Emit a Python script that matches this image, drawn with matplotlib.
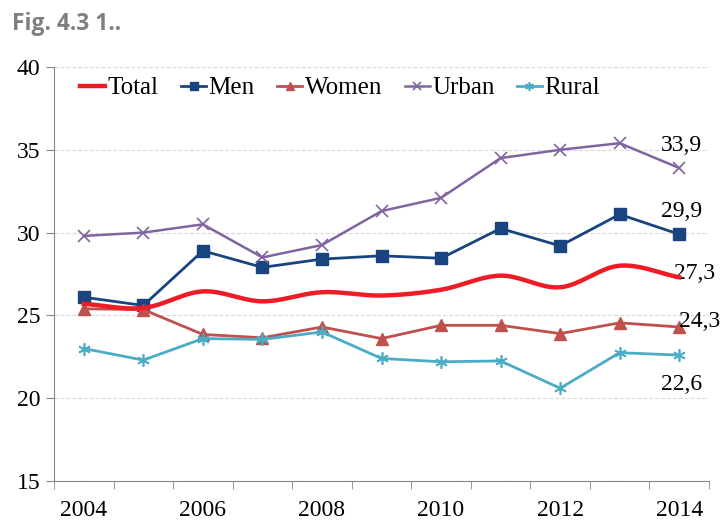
import numpy as np
import matplotlib

matplotlib.use("Agg")
import matplotlib.pyplot as plt  # noqa: E402

years = list(range(2004, 2015))
total = [25.7, 25.45, 26.45, 25.85, 26.4, 26.2, 26.55, 27.4, 26.7, 28.0, 27.3]
men = [26.1, 25.6, 28.9, 27.9, 28.4, 28.6, 28.45, 30.25, 29.2, 31.1, 29.9]
women = [25.4, 25.35, 23.85, 23.65, 24.3, 23.6, 24.4, 24.4, 23.9, 24.55, 24.3]
urban = [29.8, 30.0, 30.5, 28.5, 29.25, 31.3, 32.1, 34.5, 35.0, 35.4, 33.9]
rural = [23.0, 22.3, 23.6, 23.55, 24.0, 22.4, 22.2, 22.25, 20.6, 22.75, 22.6]
end_labels = ["27,3", "29,9", "24,3", "33,9", "22,6"]

RED = "#ee1c25"
NAVY = "#1a4480"
BRICK = "#c0504d"
PURPLE = "#8064a2"
CYAN = "#4bacc6"

plt.rcParams["font.family"] = ["Liberation Serif", "DejaVu Serif"]


def smooth(x, y, n=20):
    # Catmull-Rom curve through the points, like Excel's smoothed line
    x = np.asarray(x, float)
    y = np.asarray(y, float)
    px = np.concatenate([[2 * x[0] - x[1]], x, [2 * x[-1] - x[-2]]])
    py = np.concatenate([[2 * y[0] - y[1]], y, [2 * y[-1] - y[-2]]])
    xs, ys = [], []
    t = np.linspace(0, 1, n, endpoint=False)
    for i in range(1, len(px) - 2):
        for p, out in ((px, xs), (py, ys)):
            p0, p1, p2, p3 = p[i - 1], p[i], p[i + 1], p[i + 2]
            out.extend(0.5 * (2 * p1 + (-p0 + p2) * t
                              + (2 * p0 - 5 * p1 + 4 * p2 - p3) * t ** 2
                              + (-p0 + 3 * p1 - 3 * p2 + p3) * t ** 3))
    xs.append(x[-1])
    ys.append(y[-1])
    return np.array(xs), np.array(ys)


fig = plt.figure(figsize=(7.24, 5.21), dpi=100)
ax = fig.add_axes([54 / 724, 40 / 521, 655 / 724, 414 / 521])

x = np.arange(len(years))
sx, sy = smooth(x, total)
ax.plot(sx, sy, color=RED, lw=3.2, label="Total", zorder=4)
ax.plot(x, men, color=NAVY, lw=2, marker="s", ms=8, label="Men", zorder=3)
ax.plot(x, women, color=BRICK, lw=2, marker="^", ms=8, label="Women", zorder=3)
ax.plot(x, urban, color=PURPLE, lw=1.8, marker="x", ms=8, mew=1.2,
        label="Urban", zorder=3)
ax.plot(x, rural, color=CYAN, lw=2, marker=(6, 2, 0), ms=9, mew=1.2,
        label="Rural", zorder=3)

ax.set_xlim(-0.5, len(years) - 0.5)
ax.set_ylim(15, 40)
ax.set_yticks([15, 20, 25, 30, 35, 40])
ax.set_xticks(x[::2])
ax.set_xticklabels([str(y) for y in years[::2]])
ax.set_xticks(np.arange(len(years) + 1) - 0.5, minor=True)
ax.tick_params(axis="x", which="major", length=0, labelsize=17, pad=14)
ax.tick_params(axis="x", which="minor", length=6, color="#868686")
ax.tick_params(axis="y", length=6, color="#868686", labelsize=17, pad=4)
ax.grid(True, axis="y", color="#d9d9d9", ls="--", lw=0.8)
ax.set_axisbelow(True)
for s in ("top", "right"):
    ax.spines[s].set_visible(False)
for s in ("left", "bottom"):
    ax.spines[s].set_color("#868686")

# end-of-line value labels, offsets in pixels (dpi 100 -> *0.72 pt)
offsets = {"27,3": (-5, 4, "left", "center"),
           "29,9": (2, 23, "center", "center"),
           "24,3": (0, 5, "left", "center"),
           "33,9": (2, 23, "center", "center"),
           "22,6": (2, -29, "center", "center")}
for series, lab in zip([total, men, women, urban, rural], end_labels):
    dx, dy, ha, va = offsets[lab]
    ax.annotate(lab, (x[-1], series[-1]), xytext=(dx * 0.72, dy * 0.72),
                textcoords="offset points", ha=ha, va=va, fontsize=17)

fig.legend(*ax.get_legend_handles_labels(), loc="center left", ncol=5,
           frameon=False, fontsize=18, handlelength=1.0, handletextpad=0.1,
           columnspacing=0.9, borderpad=0, borderaxespad=0,
           bbox_to_anchor=(80 / 724, 1 - 88 / 521), markerscale=0.7)

fig.text(12 / 724, 1 - 24 / 521, "Fig. 4.3 1..", fontsize=16.5,
         fontweight="bold", color="#7f7f7f",
         family=["Open Sans", "DejaVu Sans"], va="center")

fig.savefig("out.png", dpi=100)
